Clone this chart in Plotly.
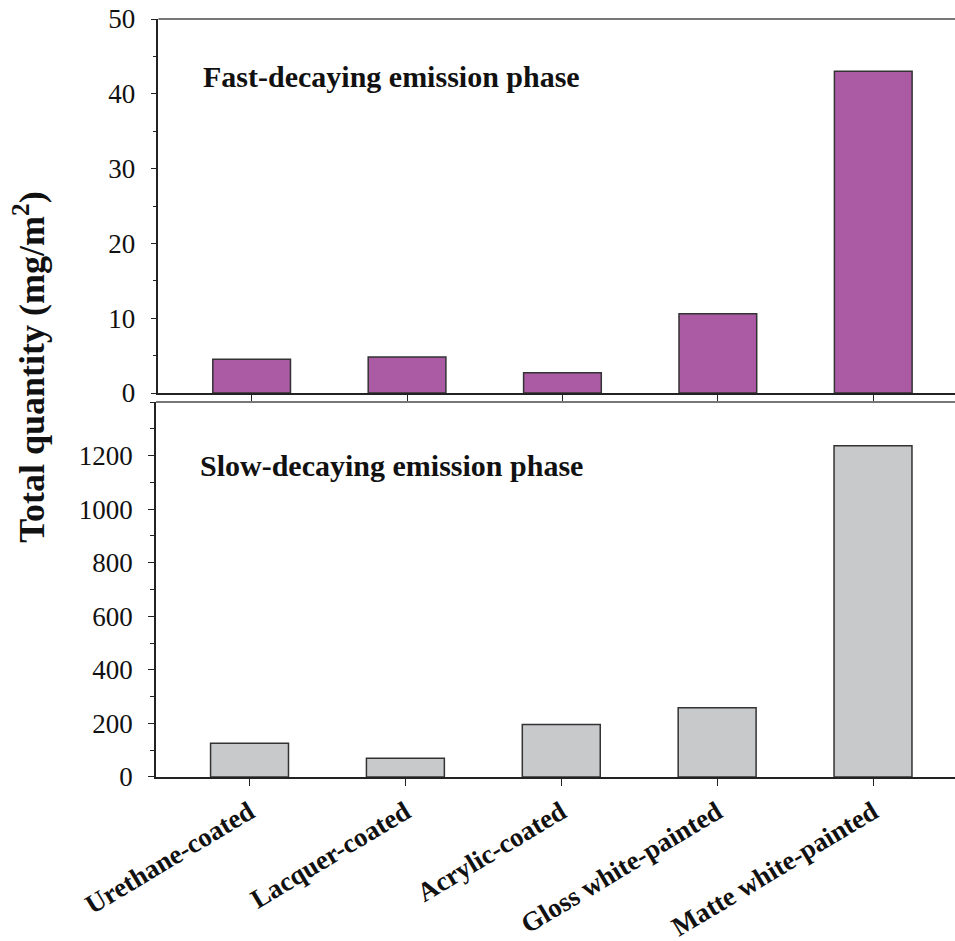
import plotly.graph_objects as go
from plotly.subplots import make_subplots

categories = ["Urethane-coated", "Lacquer-coated", "Acrylic-coated",
              "Gloss white-painted", "Matte white-painted"]
fast_values = [4.5, 4.8, 2.7, 10.6, 43.0]
slow_values = [126, 70, 196, 259, 1237]

fig = make_subplots(rows=2, cols=1, shared_xaxes=False, vertical_spacing=0.012)

fig.add_trace(go.Bar(x=categories, y=fast_values, width=0.5,
                     marker=dict(color="#AB5AA4", line=dict(color="#333333", width=1.5))),
              row=1, col=1)
fig.add_trace(go.Bar(x=categories, y=slow_values, width=0.5,
                     marker=dict(color="#C8C9CB", line=dict(color="#333333", width=1.5))),
              row=2, col=1)

serif = "Liberation Serif, Times New Roman, serif"
xr = [-0.6, 4.526]
fig.update_xaxes(range=xr, showline=True, linecolor="#222222", linewidth=1.5,
                 ticks="outside", ticklen=7, tickcolor="#222222", tickwidth=1.2,
                 showgrid=False, zeroline=False, automargin=False)
fig.update_xaxes(showticklabels=False, domain=[0.003, 1], row=1, col=1)
fig.update_xaxes(tickangle=-31, tickmode="array", tickvals=categories,
                 ticktext=["<b>%s</b>" % c for c in categories],
                 tickfont=dict(family=serif, size=27, color="#111111"),
                 row=2, col=1)

fig.update_yaxes(showline=True, linecolor="#222222", linewidth=1.5, ticks="outside",
                 ticklen=6, tickcolor="#222222", tickwidth=1.2, showgrid=False,
                 zeroline=False, automargin=False, ticklabelstandoff=10,
                 tickfont=dict(family=serif, size=27, color="#111111"))
fig.update_yaxes(range=[0, 50], dtick=10, domain=[0.5066, 1],
                 minor=dict(dtick=5, ticks="outside", ticklen=4, tickcolor="#222222"),
                 row=1, col=1)
fig.update_yaxes(range=[0, 1400], tickvals=[0, 200, 400, 600, 800, 1000, 1200],
                 domain=[0, 0.4947],
                 minor=dict(dtick=100, ticks="outside", ticklen=4, tickcolor="#222222"),
                 row=2, col=1)

for xd, yd in (("x domain", "y domain"), ("x2 domain", "y2 domain")):
    fig.add_shape(type="line", xref=xd, yref=yd, x0=0, x1=1, y0=1, y1=1,
                  line=dict(color="#777777", width=2))

fig.add_annotation(text="<b>Fast-decaying emission phase</b>", xref="x domain", yref="y domain",
                   x=0.053, y=0.845, xanchor="left", yanchor="middle", showarrow=False,
                   font=dict(family=serif, size=30, color="#111111"), row=1, col=1)
fig.add_annotation(text="<b>Slow-decaying emission phase</b>", xref="x2 domain", yref="y2 domain",
                   x=0.053, y=0.83, xanchor="left", yanchor="middle", showarrow=False,
                   font=dict(family=serif, size=30, color="#111111"))
fig.add_annotation(text="<b>Total quantity (mg/m<sup>2</sup>)</b>", xref="paper", yref="paper",
                   x=-0.158, y=0.541, textangle=-90, showarrow=False, xanchor="center",
                   yanchor="middle", font=dict(family=serif, size=36, color="#111111"))

fig.update_layout(width=955, height=941, showlegend=False, bargap=0.5,
                  plot_bgcolor="white", paper_bgcolor="white",
                  margin=dict(l=156, r=0, t=19, b=164, autoexpand=False))

fig.write_html("out.html", config={"displayModeBar": False},
               post_script="document.body.style.margin='0';document.body.style.overflow='hidden';")
